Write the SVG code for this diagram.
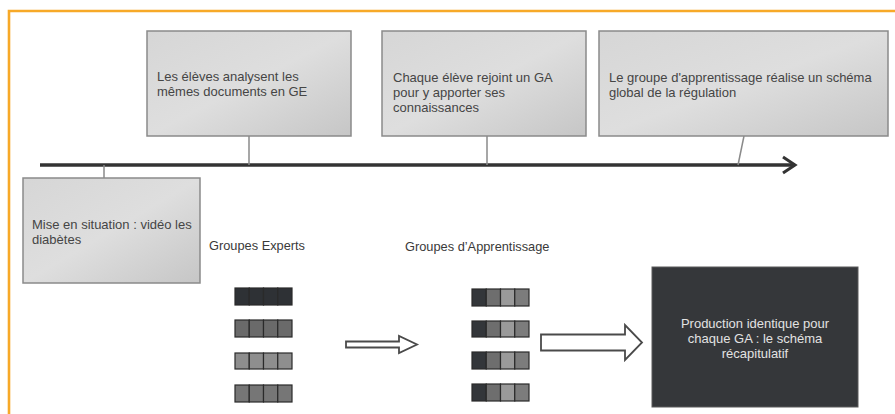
<svg xmlns="http://www.w3.org/2000/svg" width="895" height="414" viewBox="0 0 895 414">
<defs>
<linearGradient id="boxfill" x1="0" y1="0" x2="1" y2="1">
<stop offset="0" stop-color="#d6d6d6"/>
<stop offset="0.5" stop-color="#dedede"/>
<stop offset="1" stop-color="#c6c6c6"/>
</linearGradient>
</defs>
<style>
.box{fill:url(#boxfill);stroke:#8a8a8a;stroke-width:1.5}
.t{font-family:"Liberation Sans",Arial,sans-serif;font-size:13px;fill:#454545}
.lbl{font-family:"Liberation Sans",Arial,sans-serif;font-size:12.8px;fill:#3a3a3a}
.wt{font-family:"Liberation Sans",Arial,sans-serif;font-size:13px;fill:#e2e2e2;text-anchor:middle}
.conn{stroke:#8a8a8a;stroke-width:1.5;fill:none}
.sq{stroke:#2a2a2a;stroke-width:1.2}
.hollow{fill:#ffffff;stroke:#4a4a4a;stroke-width:1.8}
</style>
<rect x="0" y="0" width="895" height="414" fill="#ffffff"/>
<path d="M9,414 V11 H895" fill="none" stroke="#F7A928" stroke-width="2.6"/>

<g id="connectors">
<line x1="40" y1="165" x2="795" y2="165" stroke="#333333" stroke-width="3.5"/>
<polyline points="783,157 795,165 783,173" fill="none" stroke="#333333" stroke-width="3" stroke-linejoin="miter"/>
<line class="conn" x1="104" y1="165" x2="104" y2="178"/>
<line class="conn" x1="249" y1="136" x2="249" y2="165"/>
<line class="conn" x1="487" y1="136" x2="487" y2="165"/>
<line class="conn" x1="744" y1="136" x2="738" y2="165"/>
<polygon class="hollow" points="346,341.5 399,341.5 399,336 417,344.5 399,353 399,347.5 346,347.5"/>
<polygon class="hollow" points="541,334.5 625,334.5 625,325 642,342.5 625,360 625,350.5 541,350.5"/>
</g>

<g id="node-mise">
<rect class="box" x="23" y="178" width="177" height="105"/>
<text class="t" x="32" y="229">Mise en situation : vidéo les</text>
<text class="t" x="32" y="244">diabètes</text>
</g>

<g id="node-eleves">
<rect class="box" x="147" y="31" width="204" height="105"/>
<text class="t" x="157" y="81">Les élèves analysent les</text>
<text class="t" x="157" y="96">mêmes documents en GE</text>
</g>

<g id="node-chaque">
<rect class="box" x="382" y="31" width="204" height="105"/>
<text class="t" x="393" y="82">Chaque élève rejoint un GA</text>
<text class="t" x="393" y="97">pour y apporter ses</text>
<text class="t" x="393" y="112">connaissances</text>
</g>

<g id="node-groupe">
<rect class="box" x="599" y="31" width="289" height="105"/>
<text class="t" x="609" y="82">Le groupe d'apprentissage réalise un schéma</text>
<text class="t" x="609" y="97">global de la régulation</text>
</g>

<g id="node-experts">
<text class="lbl" x="209" y="250">Groupes Experts</text>
<g>
<rect class="sq" x="235" y="288" width="14.25" height="17" fill="#2e3135"/>
<rect class="sq" x="249.25" y="288" width="14.25" height="17" fill="#2e3135"/>
<rect class="sq" x="263.5" y="288" width="14.25" height="17" fill="#2e3135"/>
<rect class="sq" x="277.75" y="288" width="14.25" height="17" fill="#2e3135"/>
</g>
<g>
<rect class="sq" x="235" y="320" width="14.25" height="17" fill="#6a6a6a"/>
<rect class="sq" x="249.25" y="320" width="14.25" height="17" fill="#6a6a6a"/>
<rect class="sq" x="263.5" y="320" width="14.25" height="17" fill="#6a6a6a"/>
<rect class="sq" x="277.75" y="320" width="14.25" height="17" fill="#6a6a6a"/>
</g>
<g>
<rect class="sq" x="235" y="353" width="14.25" height="16" fill="#8e8e8e"/>
<rect class="sq" x="249.25" y="353" width="14.25" height="16" fill="#8e8e8e"/>
<rect class="sq" x="263.5" y="353" width="14.25" height="16" fill="#8e8e8e"/>
<rect class="sq" x="277.75" y="353" width="14.25" height="16" fill="#8e8e8e"/>
</g>
<g>
<rect class="sq" x="235" y="385" width="14.25" height="17" fill="#767676"/>
<rect class="sq" x="249.25" y="385" width="14.25" height="17" fill="#767676"/>
<rect class="sq" x="263.5" y="385" width="14.25" height="17" fill="#767676"/>
<rect class="sq" x="277.75" y="385" width="14.25" height="17" fill="#767676"/>
</g>
</g>

<g id="node-apprentissage">
<text class="lbl" x="405" y="251">Groupes d’Apprentissage</text>
<g>
<rect class="sq" x="472" y="289" width="14.25" height="17" fill="#33363a"/>
<rect class="sq" x="486.25" y="289" width="14.25" height="17" fill="#6e6e6e"/>
<rect class="sq" x="500.5" y="289" width="14.25" height="17" fill="#9a9a9a"/>
<rect class="sq" x="514.75" y="289" width="14.25" height="17" fill="#7c7c7c"/>
</g>
<g>
<rect class="sq" x="472" y="321" width="14.25" height="16" fill="#33363a"/>
<rect class="sq" x="486.25" y="321" width="14.25" height="16" fill="#6e6e6e"/>
<rect class="sq" x="500.5" y="321" width="14.25" height="16" fill="#9a9a9a"/>
<rect class="sq" x="514.75" y="321" width="14.25" height="16" fill="#7c7c7c"/>
</g>
<g>
<rect class="sq" x="472" y="352" width="14.25" height="17" fill="#33363a"/>
<rect class="sq" x="486.25" y="352" width="14.25" height="17" fill="#6e6e6e"/>
<rect class="sq" x="500.5" y="352" width="14.25" height="17" fill="#9a9a9a"/>
<rect class="sq" x="514.75" y="352" width="14.25" height="17" fill="#7c7c7c"/>
</g>
<g>
<rect class="sq" x="472" y="384" width="14.25" height="17" fill="#33363a"/>
<rect class="sq" x="486.25" y="384" width="14.25" height="17" fill="#6e6e6e"/>
<rect class="sq" x="500.5" y="384" width="14.25" height="17" fill="#9a9a9a"/>
<rect class="sq" x="514.75" y="384" width="14.25" height="17" fill="#7c7c7c"/>
</g>
</g>

<g id="node-production">
<rect x="652" y="267" width="206" height="140" fill="#35373a" stroke="#5a5a5a" stroke-width="1"/>
<text class="wt" x="755" y="328">Production identique pour</text>
<text class="wt" x="755" y="343">chaque GA : le schéma</text>
<text class="wt" x="755" y="358">récapitulatif</text>
</g>
</svg>
